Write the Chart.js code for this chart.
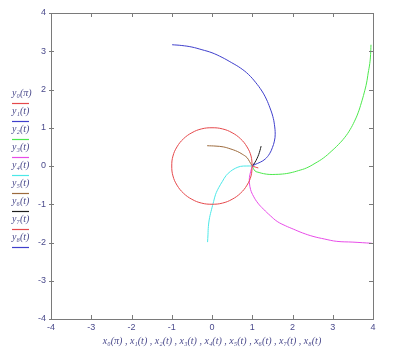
<!DOCTYPE html>
<html>
<head>
<meta charset="utf-8">
<script src="https://cdn.jsdelivr.net/npm/chart.js@4"></script>
<style>
  html, body { margin: 0; padding: 0; background: #fff; }
  #wrap { width: 400px; height: 349px; }
</style>
</head>
<body>
<div id="wrap"><canvas id="myChart" width="400" height="349"></canvas></div>
<script>
// series
var labels = ["y\u2080(\u03c0)", "y\u2081(t)", "y\u2082(t)", "y\u2083(t)", "y\u2084(t)", "y\u2085(t)", "y\u2086(t)", "y\u2087(t)", "y\u2088(t)"];
var colors = ["#e5484b", "#3f3fcc", "#4ce84c", "#e84ce8", "#4ce8e8", "#9c6a3c", "#1e1e1e", "#e5484b", "#3f3fcc"];

var circleX = [1, 0.97, 0.87, 0.71, 0.5, 0.26, 0, -0.26, -0.5, -0.71, -0.87, -0.97, -1, -0.97, -0.87, -0.71, -0.5, -0.26, 0, 0.26, 0.5, 0.71, 0.87, 0.97, 1];
var circleY = [0, 0.26, 0.5, 0.71, 0.87, 0.97, 1, 0.97, 0.87, 0.71, 0.5, 0.26, 0, -0.26, -0.5, -0.71, -0.87, -0.97, -1, -0.97, -0.87, -0.71, -0.5, -0.26, 0];

var blueX = [1, 1.07, 1.2, 1.32, 1.43, 1.5, 1.55, 1.57, 1.55, 1.51, 1.44, 1.35, 1.24, 1.08, 0.91, 0.71, 0.49, 0.25, 0.0, -0.25, -0.5, -0.75, -0.99];
var blueY = [0, 0.04, 0.1, 0.18, 0.32, 0.48, 0.65, 0.83, 1.09, 1.3, 1.52, 1.75, 1.96, 2.19, 2.39, 2.56, 2.7, 2.84, 2.96, 3.04, 3.11, 3.15, 3.17];

var greenX = [1, 1.07, 1.17, 1.28, 1.42, 1.57, 1.75, 1.94, 2.15, 2.35, 2.56, 2.77, 2.96, 3.14, 3.3, 3.43, 3.54, 3.63, 3.71, 3.78, 3.84, 3.88, 3.92, 3.94, 3.95];
var greenY = [0, -0.13, -0.17, -0.2, -0.22, -0.22, -0.21, -0.18, -0.12, -0.05, 0.07, 0.21, 0.38, 0.56, 0.75, 0.95, 1.17, 1.39, 1.65, 1.91, 2.17, 2.43, 2.68, 2.91, 3.17];

var magentaX = [1, 0.96, 0.93, 0.93, 0.96, 1.03, 1.14, 1.28, 1.45, 1.62, 1.82, 2.02, 2.25, 2.51, 2.8, 3.1, 3.5, 3.97];
var magentaY = [0, -0.15, -0.3, -0.44, -0.62, -0.79, -0.97, -1.13, -1.3, -1.45, -1.56, -1.65, -1.75, -1.84, -1.91, -1.97, -1.99, -2.02];

var cyanX = [1, 0.85, 0.71, 0.58, 0.46, 0.35, 0.26, 0.17, 0.09, 0.04, -0.01, -0.06, -0.09, -0.1, -0.11];
var cyanY = [0, 0, -0.01, -0.06, -0.14, -0.25, -0.4, -0.56, -0.74, -0.93, -1.13, -1.35, -1.58, -1.8, -1.99];

var brownX = [1, 0.93, 0.87, 0.75, 0.63, 0.45, 0.28, 0.1, -0.12];
var brownY = [0, 0.12, 0.22, 0.31, 0.38, 0.45, 0.5, 0.52, 0.53];

var blackX = [1, 1.07, 1.12, 1.16, 1.19, 1.22];
var blackY = [0, 0.1, 0.2, 0.3, 0.4, 0.52];

var red2X = [1, 1.08, 1.15];
var red2Y = [0, -0.03, -0.05];

var blue2X = [1, 1.04, 1.07];
var blue2Y = [0, 0.04, 0.07];

var xTitle = "x\u2080(\u03c0) , x\u2081(t) , x\u2082(t) , x\u2083(t) , x\u2084(t) , x\u2085(t) , x\u2086(t) , x\u2087(t) , x\u2088(t)";
var axisMin = -4, axisMax = 4;

function pts(xs, ys) {
  return xs.map(function (x, i) { return { x: x, y: ys[i] }; });
}

var series = [
  [circleX, circleY], [blueX, blueY], [greenX, greenY], [magentaX, magentaY],
  [cyanX, cyanY], [brownX, brownY], [blackX, blackY], [red2X, red2Y], [blue2X, blue2Y]
];

var textColor = "#4a4a8c";

// mathcad style frame with inward ticks
var framePlugin = {
  id: 'frame',
  afterDatasetsDraw: function (chart) {
    var c = chart.ctx, a = chart.chartArea;
    var xs = chart.scales.x, ys = chart.scales.y;
    c.save();
    c.strokeStyle = "#7a7a7a";
    c.lineWidth = 1;
    c.strokeRect(Math.round(a.left) + 0.5, Math.round(a.top) + 0.5, Math.round(a.right - a.left), Math.round(a.bottom - a.top));
    c.beginPath();
    xs.ticks.forEach(function (t) {
      var px = Math.round(xs.getPixelForValue(t.value)) + 0.5;
      c.moveTo(px, a.bottom); c.lineTo(px, a.bottom - 4);
      c.moveTo(px, a.top); c.lineTo(px, a.top + 4);
    });
    ys.ticks.forEach(function (t) {
      var py = Math.round(ys.getPixelForValue(t.value)) + 0.5;
      c.moveTo(a.left - 2, py); c.lineTo(a.left + 3, py);
      c.moveTo(a.right, py); c.lineTo(a.right - 4, py);
    });
    c.stroke();

    // legend: label above a short coloured line
    c.font = "italic 10px 'Liberation Serif', serif";
    c.fillStyle = textColor;
    c.textBaseline = "alphabetic";
    chart.data.datasets.forEach(function (ds, i) {
      var ly = 103 + i * 18;
      c.fillText(ds.label, 12, ly - 7);
      c.beginPath();
      c.strokeStyle = colors[i];
      c.lineWidth = 1.2;
      c.moveTo(12, ly + 0.5); c.lineTo(29, ly + 0.5);
      c.stroke();
    });
    c.restore();
  }
};

var ctx = document.getElementById("myChart");

var myChart = new Chart(ctx, {
  type: 'scatter',
  data: {
    datasets: series.map(function (s, i) {
      return {
        label: labels[i],
        data: pts(s[0], s[1]),
        showLine: true,
        borderColor: colors[i],
        backgroundColor: colors[i],
        borderWidth: 1,
        pointRadius: 0,
        tension: 0.4
      };
    })
  },
  options: {
    responsive: false,
    animation: false,
    layout: { padding: { top: 13, right: 27, left: 0, bottom: 0 } },
    plugins: {
      legend: { display: false },
      tooltip: { enabled: false }
    },
    scales: {
      x: {
        type: 'linear',
        min: axisMin,
        max: axisMax,
        afterFit: function (scale) { scale.height = 30; },
        grid: { display: false, drawTicks: false },
        border: { display: false },
        ticks: { stepSize: 1, padding: 3, color: textColor, font: { family: "'Liberation Sans', sans-serif", size: 9 } },
        title: {
          display: true,
          text: xTitle,
          color: textColor,
          padding: { top: 1, bottom: 2 },
          font: { family: "'Liberation Serif', serif", style: 'italic', size: 10 }
        }
      },
      y: {
        type: 'linear',
        min: axisMin,
        max: axisMax,
        afterFit: function (scale) { scale.width = 51; },
        grid: { display: false, drawTicks: false },
        border: { display: false },
        ticks: { stepSize: 1, padding: 5, color: textColor, font: { family: "'Liberation Sans', sans-serif", size: 9 } }
      }
    }
  },
  plugins: [framePlugin]
});
</script>
</body>
</html>
